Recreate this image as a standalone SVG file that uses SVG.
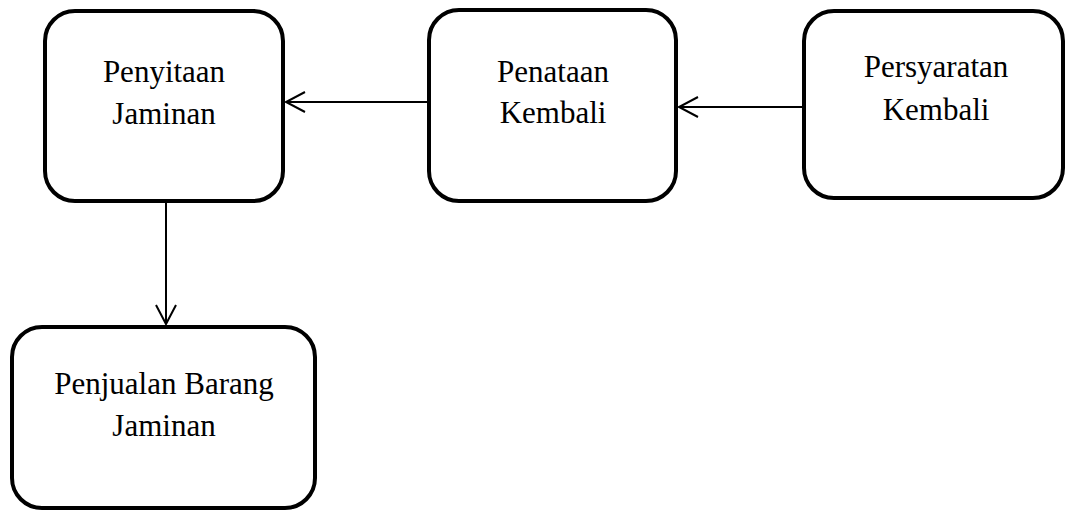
<svg xmlns="http://www.w3.org/2000/svg" width="1065" height="511" viewBox="0 0 1065 511">
<style>
.box{fill:#fff;stroke:#000;stroke-width:4}
.lbl{font-family:"Liberation Serif","Times New Roman",serif;font-size:31px;fill:#000;text-anchor:middle}
.con{fill:none;stroke:#000;stroke-width:2}
</style>
<defs>
<marker id="ah" markerUnits="userSpaceOnUse" markerWidth="24" markerHeight="24" viewBox="-21 -12 24 24" refX="0" refY="0" orient="auto">
<path d="M-19,-10 L0,0 L-19,10" fill="none" stroke="#000" stroke-width="2"/>
</marker>
</defs>
<rect width="1065" height="511" fill="#fff"/>
<g id="connectors">
<line class="con" x1="427" y1="102" x2="286" y2="102" marker-end="url(#ah)"/>
<line class="con" x1="802" y1="107" x2="679" y2="107" marker-end="url(#ah)"/>
<line class="con" x1="166" y1="203" x2="166" y2="324" marker-end="url(#ah)"/>
</g>
<g id="node-penyitaan">
<rect class="box" x="45" y="11" width="238" height="190" rx="30" ry="30"/>
<text class="lbl" x="164" y="82">Penyitaan</text>
<text class="lbl" x="164" y="124">Jaminan</text>
</g>
<g id="node-penataan">
<rect class="box" x="429" y="10" width="247" height="191" rx="30" ry="30"/>
<text class="lbl" x="553" y="82">Penataan</text>
<text class="lbl" x="553" y="123">Kembali</text>
</g>
<g id="node-persyaratan">
<rect class="box" x="804" y="11" width="259" height="187" rx="30" ry="30"/>
<text class="lbl" x="936" y="77">Persyaratan</text>
<text class="lbl" x="936" y="120">Kembali</text>
</g>
<g id="node-penjualan">
<rect class="box" x="12" y="327" width="303" height="181" rx="30" ry="30"/>
<text class="lbl" x="164" y="394">Penjualan Barang</text>
<text class="lbl" x="164" y="436">Jaminan</text>
</g>
</svg>
